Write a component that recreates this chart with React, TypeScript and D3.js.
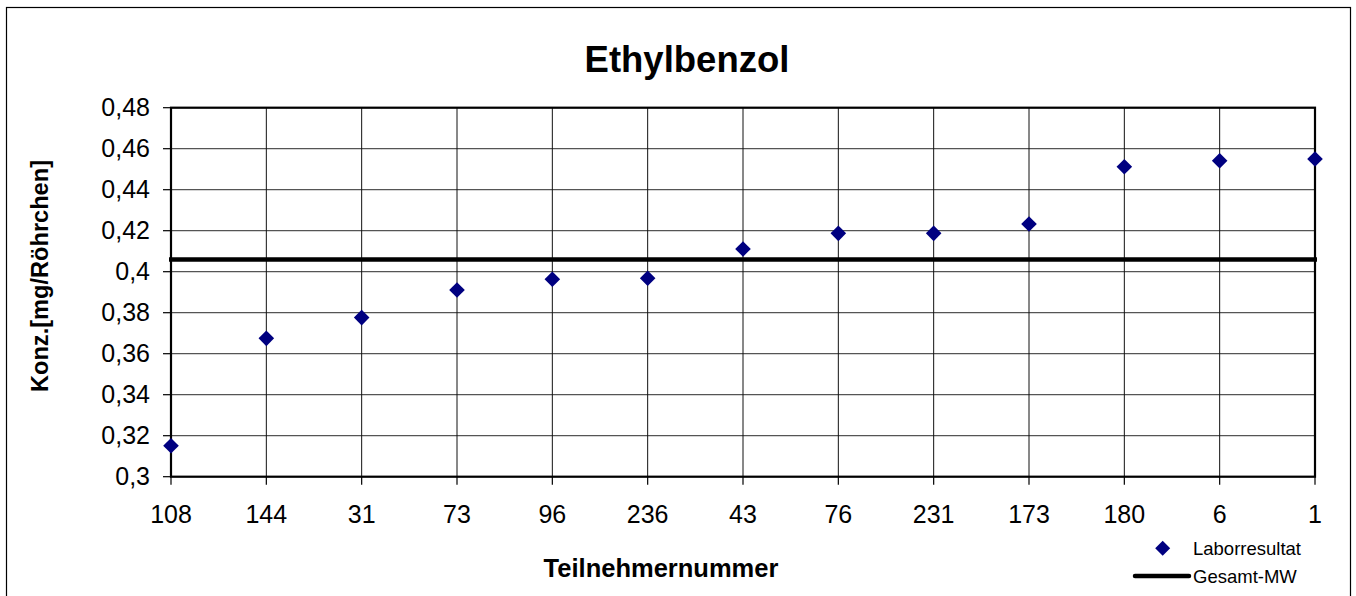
import React from "react";
import * as d3 from "d3";

const categories = ["108", "144", "31", "73", "96", "236", "43", "76", "231", "173", "180", "6", "1"];
const values = [0.3151, 0.3675, 0.3776, 0.3911, 0.3963, 0.3968, 0.4111, 0.4187, 0.4187, 0.4233, 0.4512, 0.4541, 0.455];
const meanValue = 0.406;
const yTicks = [0.3, 0.32, 0.34, 0.36, 0.38, 0.4, 0.42, 0.44, 0.46, 0.48];
const title = "Ethylbenzol";
const xTitle = "Teilnehmernummer";
const yTitle = "Konz.[mg/Röhrchen]";
const legendLabels = ["Laborresultat", "Gesamt-MW"];

const W = 1356;
const H = 596;
const plot = { left: 171, right: 1315, top: 107.7, bottom: 476.7 };
const FONT = "'Liberation Sans', Arial, sans-serif";
const fmt = (v: number) => String(+v.toFixed(2)).replace(".", ",");

export default function App() {
  const x = d3.scalePoint<string>().domain(categories).range([plot.left, plot.right]);
  const y = d3.scaleLinear().domain([0.3, 0.48]).range([plot.bottom, plot.top]);
  const diamond = (cx: number, cy: number, r = 7.8) =>
    `M${cx},${cy - r}L${cx + r},${cy}L${cx},${cy + r}L${cx - r},${cy}Z`;

  return (
    <svg
      width={W}
      height={H}
      style={{ position: "absolute", left: 0, top: 0, background: "#fff" }}
      fontFamily={FONT}
    >
      <rect x={0} y={0} width={W} height={H} fill="#fff" />
      <rect x={6.5} y={7.5} width={1344} height={590} fill="none" stroke="#000" strokeWidth={1.2} />
      <text x={687} y={72} textAnchor="middle" fontSize={36.5} fontWeight="bold">{title}</text>

      {yTicks.map((t) => (
        <line key={"h" + t} x1={plot.left} x2={plot.right} y1={y(t)} y2={y(t)} stroke="#555" strokeWidth={1.2} />
      ))}
      {categories.map((c) => (
        <line key={"v" + c} x1={x(c)} x2={x(c)} y1={plot.top} y2={plot.bottom} stroke="#111" strokeWidth={1} />
      ))}
      <rect x={plot.left} y={plot.top} width={plot.right - plot.left} height={plot.bottom - plot.top} fill="none" stroke="#000" strokeWidth={2.2} />

      {yTicks.map((t) => (
        <g key={"yt" + t}>
          <line x1={plot.left - 8} x2={plot.left} y1={y(t)} y2={y(t)} stroke="#000" strokeWidth={1.2} />
          <text x={150} y={y(t)} dy="0.35em" textAnchor="end" fontSize={25}>{fmt(t)}</text>
        </g>
      ))}
      {categories.map((c) => (
        <g key={"xt" + c}>
          <line x1={x(c)} x2={x(c)} y1={plot.bottom} y2={plot.bottom + 8} stroke="#000" strokeWidth={1.2} />
          <text x={x(c)} y={523} textAnchor="middle" fontSize={25}>{c}</text>
        </g>
      ))}

      <line x1={plot.left - 2} x2={plot.right + 2} y1={y(meanValue)} y2={y(meanValue)} stroke="#000" strokeWidth={4.5} />

      {values.map((v, i) => (
        <path key={"p" + i} d={diamond(x(categories[i])!, y(v))} fill="#000080" />
      ))}

      <text x={661} y={577} textAnchor="middle" fontSize={25.5} fontWeight="bold">{xTitle}</text>
      <text transform={`translate(48,276) rotate(-90)`} textAnchor="middle" fontSize={23.6} fontWeight="bold">{yTitle}</text>

      <path d={diamond(1162.7, 548.3, 7.5)} fill="#000080" />
      <text x={1193} y={554.5} fontSize={18.5}>{legendLabels[0]}</text>
      <line x1={1135} x2={1189} y1={576} y2={576} stroke="#000" strokeWidth={4.5} strokeLinecap="round" />
      <text x={1193} y={583} fontSize={18.5}>{legendLabels[1]}</text>
    </svg>
  );
}
